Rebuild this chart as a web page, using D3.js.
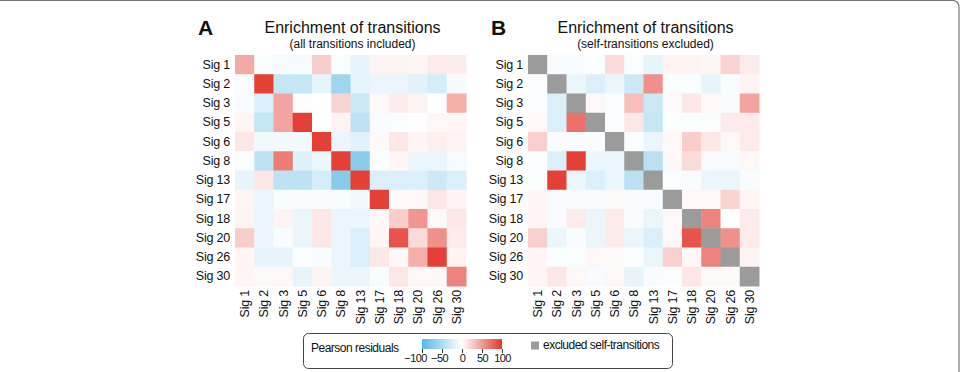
<!DOCTYPE html>
<html>
<head>
<meta charset="utf-8">
<script src="https://cdn.jsdelivr.net/npm/d3@7"></script>
<style>
    body { margin: 0; background: #fff; }
    svg text { font-family: "Liberation Sans", Arial, sans-serif; fill: #111; }
    .axis text { font-size: 12.5px; letter-spacing: -0.2px; }
    .title { font-size: 16px; }
    .subtitle { font-size: 12px; }
    .panelLetter { font-size: 21px; font-weight: bold; }
    .legendText { font-size: 12px; letter-spacing: -0.5px; }
</style>
</head>
<body>
<script>
//keep the chart data at top level
var sigs = ["Sig 1", "Sig 2", "Sig 3", "Sig 5", "Sig 6", "Sig 8", "Sig 13", "Sig 17", "Sig 18", "Sig 20", "Sig 26", "Sig 30"];

//pearson residuals, all transitions included (rows = from, cols = to)
var residualsAll = [
    [43, -3, -5, -5, 25, -3, -15, 6, 6, 5, 10, 9],
    [-3, 95, -35, -35, -15, -58, -15, -12, -12, -18, -25, -5],
    [-4, -22, 45, -2, 0, 22, -32, 3, 9, 6, 0, 40],
    [5, -35, 45, 95, 0, 6, -40, -4, -3, 0, 4, 5],
    [12, -8, -8, -8, 95, -12, -18, 3, 12, 5, 8, 6],
    [-3, -40, 65, -20, -12, 95, -70, -3, 5, -12, -12, -6],
    [-15, 12, -40, -40, -25, -72, 95, -22, -22, -22, -30, -22],
    [5, -12, -4, -4, -4, -4, -8, 95, 4, 4, 12, 6],
    [6, -12, 6, -12, 12, -12, -12, 4, 25, 52, 3, 12],
    [25, -12, -4, -12, 12, -12, -22, 5, 85, 18, 55, 10],
    [5, -15, -15, -3, -4, -12, -22, 12, 4, 40, 95, 6],
    [5, 3, 4, -15, 6, -12, -12, -4, 12, 4, 4, 62]
];

//pearson residuals, self-transitions excluded (null = excluded)
var residualsNoSelf = [
    [null, -4, -4, -3, 18, -3, -15, 6, 6, 5, 22, 10],
    [-3, null, -12, -22, -12, -30, 55, -3, -3, -15, -4, 6],
    [-3, -22, null, 4, -3, 32, -32, 3, 12, 4, -4, 45],
    [4, -22, 70, null, -3, 12, -35, -3, -3, -3, 10, 10],
    [24, -4, -4, -4, null, -3, -12, 4, 25, 12, 4, 10],
    [-3, -22, 95, -12, -12, null, -42, 4, 18, -4, -4, 4],
    [-3, 95, -12, -22, -12, -42, null, -3, -4, -12, -12, -4],
    [5, -4, -4, -4, 3, -4, -4, null, 4, 4, 22, 5],
    [5, -4, 10, -12, 10, -4, -12, 4, null, 62, 0, 10],
    [24, -12, -4, -12, 10, -12, -22, 4, 85, null, 55, 10],
    [5, -3, -3, 4, 3, -3, -12, 24, 4, 62, null, 6],
    [5, 12, 4, -4, 4, -15, -4, -3, 12, 3, 3, null]
];

var legendTicks = [-100, -50, 0, 50, 100];

(function () {

    var width = 962,
        height = 372;

    var svg = d3.select("body")
        .append("svg")
        .attr("width", width)
        .attr("height", height);

    //outer figure frame (left and bottom edges run off the picture)
    svg.append("rect")
        .attr("x", -10)
        .attr("y", 0.5)
        .attr("width", 969)
        .attr("height", 400)
        .attr("rx", 6)
        .style("fill", "none")
        .style("stroke", "#777")
        .style("stroke-width", 1.2);

    //diverging colour scale for the residuals
    var colorScale = d3.scaleLinear()
        .domain([-100, 0, 100])
        .range(["#58b7e3", "#ffffff", "#e3362b"])
        .clamp(true);

    var excludedColor = "#9b9b9b";

    drawPanel(235, "A", "(all transitions included)", residualsAll);
    drawPanel(528, "B", "(self-transitions excluded)", residualsNoSelf);
    drawLegend();

    function drawPanel(left, letter, subtitle, matrix) {
        var top = 55,
            size = 231;

        var x = d3.scaleBand().domain(sigs).range([left, left + size]);
        var y = d3.scaleBand().domain(sigs).range([top, top + size]);

        //flatten the matrix into cells
        var cells = [];
        matrix.forEach(function (row, i) {
            row.forEach(function (v, j) {
                cells.push({ from: sigs[i], to: sigs[j], value: v });
            });
        });

        svg.append("g")
            .selectAll("rect")
            .data(cells)
            .enter()
            .append("rect")
            .attr("x", function (d) { return x(d.to); })
            .attr("y", function (d) { return y(d.from); })
            .attr("width", x.bandwidth() + 0.5)
            .attr("height", y.bandwidth() + 0.5)
            .style("fill", function (d) {
                return d.value === null ? excludedColor : colorScale(d.value);
            });

        //row labels
        var yAxis = svg.append("g")
            .attr("class", "axis")
            .attr("transform", "translate(" + (left - 5) + ",0)")
            .call(d3.axisLeft(y).tickSize(0).tickPadding(0));
        yAxis.select(".domain").remove();

        //column labels, rotated
        var xAxis = svg.append("g")
            .attr("class", "axis")
            .attr("transform", "translate(0," + (top + size + 4) + ")")
            .call(d3.axisBottom(x).tickSize(0).tickPadding(0));
        xAxis.select(".domain").remove();
        xAxis.selectAll("text")
            .attr("transform", "rotate(-90)")
            .attr("text-anchor", "end")
            .attr("dy", "0.35em")
            .attr("x", 0)
            .attr("y", 0);

        //titles
        var cx = left + size / 2;
        svg.append("text")
            .attr("class", "title")
            .attr("x", cx + 2)
            .attr("y", 33)
            .attr("text-anchor", "middle")
            .text("Enrichment of transitions");
        svg.append("text")
            .attr("class", "subtitle")
            .attr("x", cx + 2)
            .attr("y", 48)
            .attr("text-anchor", "middle")
            .text(subtitle);
        svg.append("text")
            .attr("class", "panelLetter")
            .attr("x", left - 37)
            .attr("y", 35)
            .text(letter);
    }

    function drawLegend() {
        var box = svg.append("g");

        box.append("rect")
            .attr("x", 303.5)
            .attr("y", 333.5)
            .attr("width", 369)
            .attr("height", 35)
            .attr("rx", 5)
            .style("fill", "#fff")
            .style("stroke", "#444")
            .style("stroke-width", 1);

        box.append("text")
            .attr("class", "legendText")
            .attr("x", 311)
            .attr("y", 352)
            .text("Pearson residuals");

        //gradient bar
        var lx = d3.scaleLinear().domain([-100, 100]).range([422, 502]);

        var grad = svg.append("defs")
            .append("linearGradient")
            .attr("id", "resGrad");
        d3.range(-100, 101, 25).forEach(function (v) {
            grad.append("stop")
                .attr("offset", ((v + 100) / 200 * 100) + "%")
                .attr("stop-color", colorScale(v));
        });

        box.append("rect")
            .attr("x", lx(-100))
            .attr("y", 339)
            .attr("width", lx(100) - lx(-100))
            .attr("height", 10)
            .style("fill", "url(#resGrad)");

        var legendAxis = box.append("g")
            .attr("transform", "translate(0,349)")
            .call(d3.axisBottom(lx)
                .tickValues(legendTicks)
                .tickSize(4)
                .tickPadding(1)
                .tickFormat(d3.format("d")));
        legendAxis.select(".domain").remove();
        legendAxis.selectAll("line").style("stroke", "#333");
        legendAxis.selectAll("text")
            .attr("class", "legendText")
            .style("font-size", "11px")
            .style("letter-spacing", "-0.6px")
            .attr("dx", function (d) { return d === -100 ? -7 : (d === -50 ? -3 : 0); });

        //excluded swatch
        box.append("rect")
            .attr("x", 531)
            .attr("y", 341.5)
            .attr("width", 8)
            .attr("height", 8)
            .style("fill", excludedColor);

        box.append("text")
            .attr("class", "legendText")
            .attr("x", 543)
            .attr("y", 349)
            .text("excluded self-transitions");
    }

})();
</script>
</body>
</html>
